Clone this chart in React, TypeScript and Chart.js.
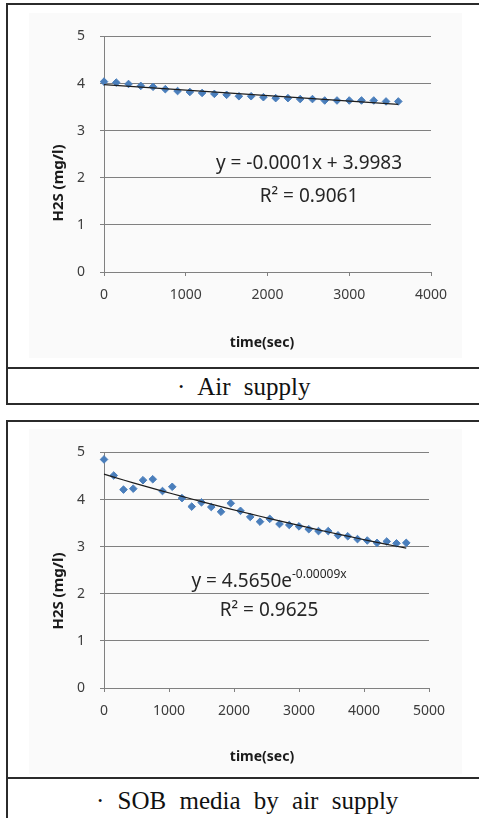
import React, { useEffect, useRef } from "react";
import { Chart, registerables } from "chart.js";

Chart.register(...registerables);

// ---------- data ----------
const airTimes = [0, 150, 300, 450, 600, 750, 900, 1050, 1200, 1350, 1500, 1650, 1800, 1950, 2100, 2250, 2400, 2550, 2700, 2850, 3000, 3150, 3300, 3450, 3600];
const airH2S = [4.04, 4.02, 3.99, 3.95, 3.93, 3.88, 3.84, 3.82, 3.8, 3.78, 3.76, 3.73, 3.73, 3.71, 3.69, 3.69, 3.67, 3.67, 3.64, 3.64, 3.64, 3.64, 3.64, 3.62, 3.62];

const sobTimes = [0, 150, 300, 450, 600, 750, 900, 1050, 1200, 1350, 1500, 1650, 1800, 1950, 2100, 2250, 2400, 2550, 2700, 2850, 3000, 3150, 3300, 3450, 3600, 3750, 3900, 4050, 4200, 4350, 4500, 4650];
const sobH2S = [4.85, 4.51, 4.21, 4.23, 4.41, 4.43, 4.18, 4.27, 4.03, 3.85, 3.94, 3.84, 3.74, 3.92, 3.76, 3.63, 3.53, 3.59, 3.48, 3.46, 3.43, 3.37, 3.33, 3.33, 3.24, 3.22, 3.16, 3.13, 3.08, 3.11, 3.07, 3.08];

const yTicks = [0, 1, 2, 3, 4, 5];
const airXTicks = [0, 1000, 2000, 3000, 4000];
const sobXTicks = [0, 1000, 2000, 3000, 4000, 5000];

const yTitle = "H2S (mg/l)";
const xTitle = "time(sec)";

const airEquation = "y = -0.0001x + 3.9983";
const airR2 = "R\u00B2 = 0.9061";
const sobEquationBase = "y = 4.5650e";
const sobEquationExp = "-0.00009x";
const sobR2 = "R\u00B2 = 0.9625";

const airCaption = "\u00B7 Air supply";
const sobCaption = "\u00B7 SOB media by air supply";

// ---------- styles ----------
const MARKER = "#4A7EBB";
const TREND = "#1e1e1e";
const GRID = "#808080";
const TICK_COLOR = "#3c3c3c";
const SANS = '"Noto Sans", "Open Sans", sans-serif';
const CANVAS_W = 433;
const CANVAS_H = 345;

function linearFit(xs: number[], ys: number[]) {
  const n = xs.length;
  const mx = xs.reduce((a, b) => a + b, 0) / n;
  const my = ys.reduce((a, b) => a + b, 0) / n;
  let sxy = 0;
  let sxx = 0;
  for (let i = 0; i < n; i++) {
    sxy += (xs[i] - mx) * (ys[i] - my);
    sxx += (xs[i] - mx) * (xs[i] - mx);
  }
  const slope = sxy / sxx;
  return { slope, intercept: my - slope * mx };
}

type Props = {
  xs: number[];
  ys: number[];
  xTicks: number[];
  fit: "linear" | "exp";
  eqBase: string;
  eqSup?: string;
  r2: string;
  eqX: number;
  eqY1: number;
  eqY2: number;
  yTitleY: number;
  xTitleX: number;
  xTitleY: number;
  padTop: number;
  padRight: number;
};

function ScatterPanel(p: Props) {
  const ref = useRef<HTMLCanvasElement | null>(null);

  useEffect(() => {
    if (!ref.current) return;
    let trend: { x: number; y: number }[] = [];
    if (p.fit === "linear") {
      const f = linearFit(p.xs, p.ys);
      const x0 = p.xs[0];
      const x1 = p.xs[p.xs.length - 1];
      trend = [
        { x: x0, y: f.intercept + f.slope * x0 },
        { x: x1, y: f.intercept + f.slope * x1 },
      ];
    } else {
      const f = linearFit(p.xs, p.ys.map((v) => Math.log(v)));
      const A = Math.exp(f.intercept);
      trend = p.xs.map((x) => ({ x, y: A * Math.exp(f.slope * x) }));
    }

    const textPlugin = {
      id: "panelText",
      afterDraw(chart: any) {
        const ctx = chart.ctx as CanvasRenderingContext2D;
        ctx.save();
        ctx.fillStyle = "#1a1a1a";
        ctx.textAlign = "center";
        ctx.textBaseline = "middle";
        ctx.font = `bold 14px ${SANS}`;
        ctx.fillText(xTitle, p.xTitleX, p.xTitleY);
        ctx.save();
        ctx.translate(30, p.yTitleY);
        ctx.rotate(-Math.PI / 2);
        ctx.font = `bold 15px ${SANS}`;
        ctx.fillText(yTitle, 0, 0);
        ctx.restore();
        // equation
        ctx.fillStyle = "#262626";
        ctx.textBaseline = "alphabetic";
        ctx.textAlign = "left";
        ctx.font = `19px ${SANS}`;
        const wBase = ctx.measureText(p.eqBase).width;
        let wSup = 0;
        if (p.eqSup) {
          ctx.font = `12px ${SANS}`;
          wSup = ctx.measureText(p.eqSup).width;
        }
        const start = p.eqX - (wBase + wSup) / 2;
        ctx.font = `19px ${SANS}`;
        ctx.fillText(p.eqBase, start, p.eqY1);
        if (p.eqSup) {
          ctx.font = `12px ${SANS}`;
          ctx.fillText(p.eqSup, start + wBase, p.eqY1 - 9);
        }
        ctx.font = `19px ${SANS}`;
        ctx.textAlign = "center";
        ctx.fillText(p.r2, p.eqX, p.eqY2);
        ctx.restore();
      },
    };

    const chart = new Chart(ref.current, {
      type: "scatter",
      data: {
        datasets: [
          {
            type: "line",
            data: trend,
            borderColor: TREND,
            borderWidth: 1.2,
            pointRadius: 0,
            tension: 0,
            fill: false,
            clip: false,
            order: 0,
          } as any,
          {
            data: p.xs.map((x, i) => ({ x, y: p.ys[i] })),
            pointStyle: "rectRot",
            pointRadius: 3.8,
            backgroundColor: MARKER,
            borderColor: MARKER,
            borderWidth: 1,
            clip: false,
            order: 1,
          } as any,
        ],
      },
      options: {
        animation: false,
        responsive: false,
        maintainAspectRatio: false,
        layout: { padding: { top: p.padTop, right: p.padRight, left: 0, bottom: 0 } },
        plugins: { legend: { display: false }, tooltip: { enabled: false } },
        scales: {
          x: {
            type: "linear",
            min: p.xTicks[0],
            max: p.xTicks[p.xTicks.length - 1],
            afterBuildTicks: (s: any) => {
              s.ticks = p.xTicks.map((v) => ({ value: v }));
            },
            afterFit: (s: any) => {
              s.height = 86;
            },
            grid: { drawOnChartArea: false, drawTicks: true, tickLength: 4, color: GRID },
            border: { color: GRID, width: 1 },
            ticks: {
              font: { family: SANS, size: 14 },
              color: TICK_COLOR,
              padding: 11,
              maxRotation: 0,
              callback: (v: any) => String(v),
            },
          },
          y: {
            type: "linear",
            min: yTicks[0],
            max: yTicks[yTicks.length - 1],
            afterBuildTicks: (s: any) => {
              s.ticks = yTicks.map((v) => ({ value: v }));
            },
            afterFit: (s: any) => {
              s.width = 75;
            },
            grid: { drawTicks: true, tickLength: 4, color: GRID },
            border: { color: GRID, width: 1 },
            ticks: {
              font: { family: SANS, size: 14 },
              color: TICK_COLOR,
              padding: 15,
              callback: (v: any) => String(v),
            },
          },
        },
      },
      plugins: [textPlugin],
    });
    return () => chart.destroy();
  }, []);

  return <canvas ref={ref} width={CANVAS_W} height={CANVAS_H} style={{ display: "block" }} />;
}

const BORDER = "#2b2b2b";

export default function App() {
  const captionStyle: React.CSSProperties = {
    position: "absolute",
    fontFamily: '"Liberation Serif", "DejaVu Serif", serif',
    fontSize: 25,
    lineHeight: "25px",
    wordSpacing: 7,
    color: "#111",
    whiteSpace: "pre",
  };
  return (
    <div style={{ position: "absolute", left: 0, top: 0, width: 479, height: 818, overflow: "hidden", background: "#fff" }}>
      {/* panel 1 frame */}
      <div style={{ position: "absolute", left: 6, top: 3, width: 500, height: 402, boxSizing: "border-box", borderLeft: `2px solid ${BORDER}`, borderTop: `2px solid ${BORDER}`, borderBottom: `2px solid ${BORDER}` }} />
      <div style={{ position: "absolute", left: 6, top: 367, width: 500, height: 2, background: BORDER }} />
      <div style={{ position: "absolute", left: 29, top: 13, width: CANVAS_W, height: CANVAS_H, background: "#fafafa" }}>
        <ScatterPanel
          xs={airTimes}
          ys={airH2S}
          xTicks={airXTicks}
          fit="linear"
          eqBase={airEquation}
          r2={airR2}
          eqX={280}
          eqY1={156}
          eqY2={189}
          yTitleY={170}
          xTitleX={233}
          xTitleY={330}
          padTop={21}
          padRight={31}
        />
      </div>
      <div style={{ ...captionStyle, left: 177, top: 374 }}>{airCaption}</div>

      {/* panel 2 frame */}
      <div style={{ position: "absolute", left: 6, top: 420, width: 500, height: 420, boxSizing: "border-box", borderLeft: `2px solid ${BORDER}`, borderTop: `2px solid ${BORDER}` }} />
      <div style={{ position: "absolute", left: 6, top: 777, width: 500, height: 2, background: BORDER }} />
      <div style={{ position: "absolute", left: 29, top: 429, width: CANVAS_W, height: CANVAS_H, background: "#fafafa" }}>
        <ScatterPanel
          xs={sobTimes}
          ys={sobH2S}
          xTicks={sobXTicks}
          fit="exp"
          eqBase={sobEquationBase}
          eqSup={sobEquationExp}
          r2={sobR2}
          eqX={240}
          eqY1={158}
          eqY2={187}
          yTitleY={162}
          xTitleX={233}
          xTitleY={328}
          padTop={22}
          padRight={33}
        />
      </div>
      <div style={{ ...captionStyle, left: 96, top: 788 }}>{sobCaption}</div>
    </div>
  );
}
